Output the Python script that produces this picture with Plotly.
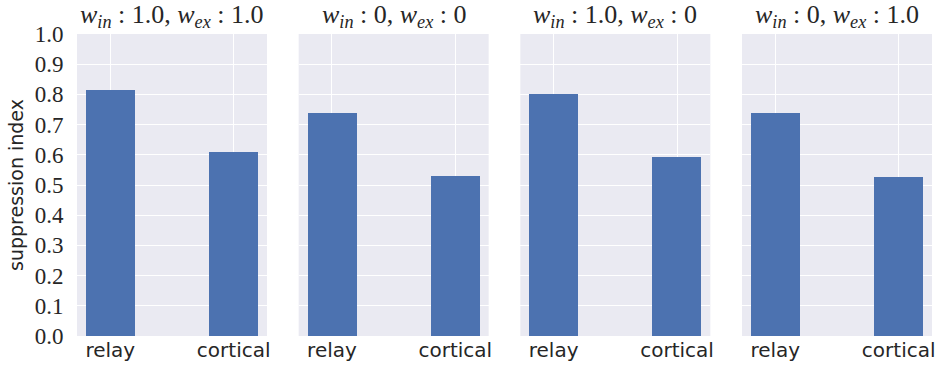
import plotly.graph_objects as go

# Suppression index of relay vs cortical cells for four weight settings
categories = ["relay", "cortical"]
panel_titles = [
    "<i>w</i><sub><i>in</i></sub> : 1.0, <i>w</i><sub><i>ex</i></sub> : 1.0",
    "<i>w</i><sub><i>in</i></sub> : 0, <i>w</i><sub><i>ex</i></sub> : 0",
    "<i>w</i><sub><i>in</i></sub> : 1.0, <i>w</i><sub><i>ex</i></sub> : 0",
    "<i>w</i><sub><i>in</i></sub> : 0, <i>w</i><sub><i>ex</i></sub> : 1.0",
]
relay_values = [0.814, 0.737, 0.800, 0.737]
cortical_values = [0.608, 0.529, 0.592, 0.526]
y_ticks = [0.0, 0.1, 0.2, 0.3, 0.4, 0.5, 0.6, 0.7, 0.8, 0.9, 1.0]

BAR = "#4C72B0"
BG = "#EAEAF2"
SERIF = "Liberation Serif"
SANS = "DejaVu Sans"

W, H = 937, 369
ml, mr, mt, mb = 77, 5, 34, 33

n = 4
pw = 0.2222
gap = (1 - n * pw) / (n - 1)
domains = [[i * (pw + gap), i * (pw + gap) + pw] for i in range(n)]
domains[-1][1] = 1.0

fig = go.Figure()
layout = dict(
    width=W, height=H,
    margin=dict(l=ml, r=mr, t=mt, b=mb, pad=0, autoexpand=False),
    paper_bgcolor="white",
    plot_bgcolor=BG,
    showlegend=False,
    bargap=0,
    annotations=[],
)

for i in range(n):
    xa = "x" if i == 0 else f"x{i+1}"
    ya = "y" if i == 0 else f"y{i+1}"
    fig.add_trace(go.Bar(
        x=[0, 1],
        y=[relay_values[i], cortical_values[i]],
        width=0.4,
        marker=dict(color=BAR, line=dict(width=0)),
        xaxis=xa, yaxis=ya,
        hoverinfo="skip",
    ))
    key = "" if i == 0 else str(i + 1)
    layout["xaxis" + key] = dict(
        domain=domains[i],
        anchor=ya,
        range=[-0.27, 1.27],
        tickmode="array",
        tickvals=[0, 1],
        ticktext=categories,
        tickfont=dict(family=SANS, size=20, color="#262626"),
        showgrid=True, gridcolor="white", gridwidth=1,
        zeroline=False, showline=False,
        ticks="", ticklen=0,
        automargin=False,
        fixedrange=True,
    )
    layout["yaxis" + key] = dict(
        domain=[0, 1],
        anchor=xa,
        range=[0, 1.0],
        tickmode="array",
        tickvals=y_ticks,
        ticktext=[f"{v:.1f}" for v in y_ticks],
        showticklabels=(i == 0),
        tickfont=dict(family=SERIF, size=23, color="#262626"),
        showgrid=True, gridcolor="white", gridwidth=1,
        zeroline=False, showline=False,
        ticks="outside", ticklen=8, tickcolor="rgba(0,0,0,0)",
        automargin=False,
        fixedrange=True,
    )
    cx = (domains[i][0] + domains[i][1]) / 2
    layout["annotations"].append(dict(
        text=panel_titles[i],
        x=cx, y=1.0,
        xref="paper", yref="paper",
        xanchor="center", yanchor="bottom",
        yshift=0,
        showarrow=False,
        font=dict(family=SERIF, size=26, color="#262626"),
    ))

layout["yaxis"]["title"] = dict(
    text="suppression index",
    font=dict(family=SANS, size=19, color="#262626"),
    standoff=6,
)

fig.update_layout(**layout)
fig.write_html("out.html")
